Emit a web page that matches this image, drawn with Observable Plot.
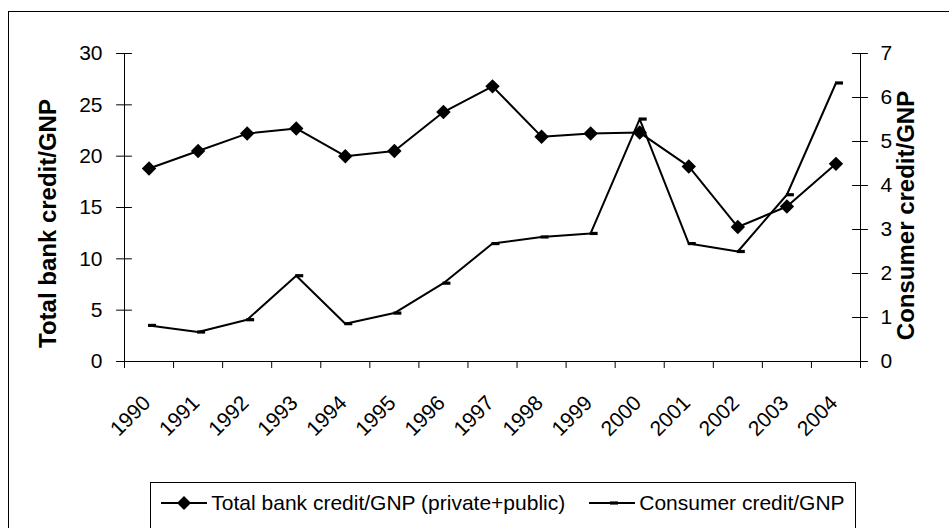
<!DOCTYPE html>
<html><head><meta charset="utf-8">
<script src="https://cdn.jsdelivr.net/npm/d3@7"></script>
<script src="https://cdn.jsdelivr.net/npm/@observablehq/plot@0.6"></script>
<style>
html,body{margin:0;padding:0;background:#fff;}
#wrap{position:relative;width:949px;height:528px;overflow:hidden;font-family:"Liberation Sans",Arial,sans-serif;color:#000;}
#frame{position:absolute;left:8px;top:11px;width:1000px;height:600px;border:1.5px solid #000;box-sizing:border-box;}
#chart{position:absolute;left:0;top:0;}
#legend{position:absolute;left:150px;top:482px;width:706px;height:60px;border:1px solid #000;box-sizing:border-box;background:#fff;
  display:flex;align-items:flex-start;justify-content:center;padding-top:8px;font-size:21px;white-space:nowrap;}
#legend .item{display:flex;align-items:center;margin:0 12px;}
#legend svg{margin-right:4px;}
</style></head>
<body>
<div id="wrap">
  <div id="frame"></div>
  <div id="chart"></div>
  <div id="legend"></div>
</div>
<script>
const years = ["1990","1991","1992","1993","1994","1995","1996","1997","1998","1999","2000","2001","2002","2003","2004"];
const totalCredit = [18.8,20.5,22.2,22.7,20.0,20.5,24.3,26.8,21.9,22.2,22.3,19.0,13.1,15.1,19.25];
const consumerCredit = [0.82,0.67,0.95,1.95,0.86,1.10,1.78,2.68,2.83,2.91,5.51,2.68,2.50,3.79,6.33];
const leftTicks = [0,5,10,15,20,25,30];
const rightTicks = [0,1,2,3,4,5,6,7];
const seriesNames = ["Total bank credit/GNP (private+public)","Consumer credit/GNP"];
const leftTitle = "Total bank credit/GNP";
const rightTitle = "Consumer credit/GNP";

const leftMax = 30, rightMax = 7;
const k = leftMax / rightMax;
const data = years.map((y, i) => ({year: y, i: i + 0.5, total: totalCredit[i], consumer: consumerCredit[i]}));

const dash = {draw(ctx) { ctx.rect(-1, -1.6, 8, 3.2); }};

const chart = Plot.plot({
  width: 949, height: 470,
  marginLeft: 124, marginRight: 89, marginTop: 53, marginBottom: 109,
  style: {fontFamily: "'Liberation Sans', Arial, sans-serif", fontSize: "21px", color: "#000", background: "transparent", overflow: "visible"},
  x: {domain: [0, years.length], axis: null},
  y: {domain: [0, leftMax], axis: null},
  marks: [
    Plot.ruleX([0], {stroke: "#000", strokeWidth: 1}),
    Plot.ruleX([years.length], {stroke: "#000", strokeWidth: 1}),
    Plot.ruleY([0], {stroke: "#000", strokeWidth: 1}),
    Plot.ruleY(leftTicks, {y: d => d, x1: -0.16, x2: 0.16, stroke: "#000"}),
    Plot.text(leftTicks, {x: 0, y: d => d, text: d => String(d), textAnchor: "end", dx: -22, fontSize: 21}),
    Plot.ruleY(rightTicks, {y: d => d * k, x1: years.length - 0.16, x2: years.length + 0.16, stroke: "#000"}),
    Plot.text(rightTicks, {x: years.length, y: d => d * k, text: d => String(d), textAnchor: "start", dx: 20, fontSize: 21}),
    Plot.ruleX(d3.range(years.length + 1), {x: d => d, y1: 0, y2: -0.68, stroke: "#000"}),
    Plot.text(years, {x: (d, i) => i + 0.5, y: 0, text: d => d, rotate: -45, textAnchor: "end", dx: -2, dy: 38, fontSize: 21}),
    Plot.line(data, {x: "i", y: "total", stroke: "#000", strokeWidth: 2}),
    Plot.line(data, {x: "i", y: d => d.consumer * k, stroke: "#000", strokeWidth: 2}),
    Plot.dot(data, {x: "i", y: "total", symbol: "diamond2", r: 6.5, fill: "#000", stroke: "none"}),
    Plot.dot(data, {x: "i", y: d => d.consumer * k, symbol: dash, r: 3, fill: "#000", stroke: "none"}),
    Plot.text([leftTitle], {frameAnchor: "left", text: d => d, rotate: -90, textAnchor: "middle", dx: -76, dy: 16, fontSize: 24, fontWeight: "bold"}),
    Plot.text([rightTitle], {frameAnchor: "right", text: d => d, rotate: -90, textAnchor: "middle", dx: 46, dy: 8, fontSize: 24, fontWeight: "bold"})
  ]
});
document.getElementById("chart").appendChild(chart);

const legend = document.getElementById("legend");
const samples = [
  `<svg width="46" height="20"><line x1="0" y1="10" x2="46" y2="10" stroke="#000" stroke-width="2"/><path d="M23,3 L30,10 L23,17 L16,10 Z" fill="#000"/></svg>`,
  `<svg width="46" height="20"><line x1="0" y1="10" x2="46" y2="10" stroke="#000" stroke-width="2"/><rect x="21" y="8.4" width="8" height="3.2" fill="#000"/></svg>`
];
seriesNames.forEach((name, i) => {
  const item = document.createElement("div");
  item.className = "item";
  item.innerHTML = samples[i] + `<span>${name}</span>`;
  legend.appendChild(item);
});
</script>
</body></html>
